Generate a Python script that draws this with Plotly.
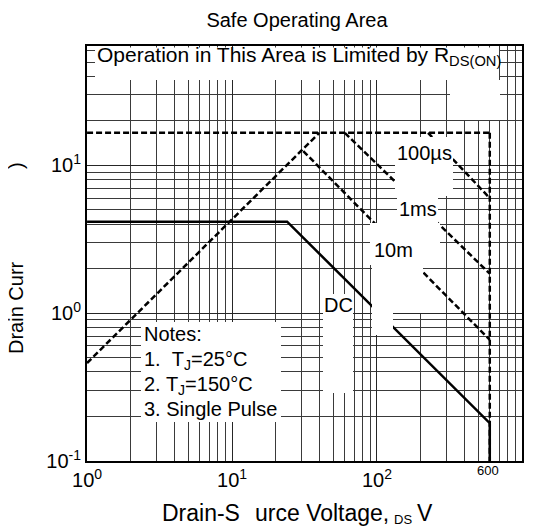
import plotly.graph_objects as go

# ---------------- data ----------------
pulse_v = [1, 600]
pulse_i = [16.6, 16.6]
rds_v = [1, 40]
rds_i = [0.46, 16.6]
us100_v = [225, 600]
us100_i = [16.6, 6.0]
ms1_v = [60, 600]
ms1_i = [16.6, 1.85]
ms10_v = [31, 600]
ms10_i = [12.5, 0.66]
vmax_v = [600, 600]
vmax_i = [16.6, 0.1]
dc_v = [1, 24, 600, 600]
dc_i = [4.16, 4.16, 0.18, 0.1]

x_major = [1, 10, 100, 1000]
x_major_text = ["10<sup>0</sup>", "10<sup>1</sup>", "10<sup>2</sup>", "10<sup>3</sup>"]
x_minor = [2, 3, 4, 5, 6, 7, 8, 9, 20, 30, 40, 50, 60, 70, 80, 90,
           200, 300, 400, 500, 600, 700, 800, 900]
y_major = [0.1, 1, 10]
y_major_text = ["10<sup>-1</sup>", "10<sup>0</sup>", "10<sup>1</sup>"]
y_minor = [0.2, 0.3, 0.4, 0.5, 0.6, 0.7, 0.8, 0.9, 2, 3, 4, 5, 6, 7, 8, 9,
           20, 30, 40, 50, 60]

# ---------------- layout geometry ----------------
# the page body adds an 8px offset; the figure is sized so the plot area
# lands at screen pixels x 87..522, y 46..461 in the 537x527 window
OFF = 8
W, H = 537 - OFF, 527 - OFF
X0, X1, Y0, Y1 = 87, 522, 46, 461          # plot area in screen pixels
L, T = X0 - OFF, Y0 - OFF
R, B = W + OFF - X1, H + OFF - Y1
PW, PH = X1 - X0, Y1 - Y0
FONT = "Liberation Sans, Arial, Helvetica, sans-serif"


def px(x):
    return (x - X0) / PW


def py(y):
    return (Y1 - y) / PH


fig = go.Figure()

dash_style = dict(color="black", width=2.5, dash="6px,3px")
for name, xs, ys in [("Pulse limit", pulse_v, pulse_i),
                     ("RDS(on) limit", rds_v, rds_i),
                     ("100µs", us100_v, us100_i),
                     ("1ms", ms1_v, ms1_i),
                     ("10ms", ms10_v, ms10_i),
                     ("VDS max", vmax_v, vmax_i)]:
    fig.add_trace(go.Scatter(x=xs, y=ys, mode="lines", name=name,
                             line=dash_style, hoverinfo="skip"))
fig.add_trace(go.Scatter(x=dc_v, y=dc_i, mode="lines", name="DC",
                         line=dict(color="black", width=2.5), hoverinfo="skip"))

# white masking patches seen in the reference (screen pixel boxes x0,x1,y0,y1)
masks = [
    (95, 499, 47.5, 80),     # R_DS(ON) note
    (450, 500, 80, 120),
    (395, 453, 137, 196),    # 100us
    (397, 438, 196, 223),    # 1ms
    (370, 440, 223, 265),    # 10ms
    (372, 423, 265, 313),
    (372, 393, 313, 335),
    (323, 353, 294, 393),    # DC
    (141, 281, 322, 422),    # notes
]
shapes = []
for x0, x1, y0, y1 in masks:
    shapes.append(dict(type="rect", xref="paper", yref="paper",
                       x0=px(x0), x1=px(x1), y0=py(y1), y1=py(y0),
                       fillcolor="white", line=dict(width=0), layer="above"))

ann = []


def add_text(text, x, y, size=20, xanchor="center", yanchor="middle", angle=0):
    ann.append(dict(text=text, x=px(x), y=py(y), xref="paper", yref="paper",
                    xanchor=xanchor, yanchor=yanchor, showarrow=False,
                    textangle=angle, font=dict(family=FONT, size=size, color="black")))


add_text("Operation in This Area is Limited by R<sub>DS(ON)</sub>", 95, 56, size=21,
         xanchor="left")
add_text("100µs", 424, 153)
add_text("1ms", 418, 209)
add_text("10m", 372, 250, xanchor="left")
add_text("DC", 338, 305)
add_text("Notes:", 142, 334, xanchor="left")
add_text("1.\u00a0\u00a0T<sub>J</sub>=25°C", 142, 360, xanchor="left")
add_text("2. T<sub>J</sub>=150°C", 142, 385, xanchor="left")
add_text("3. Single Pulse", 142, 409, xanchor="left")
add_text("600", 488, 470, size=13)
# axis titles (partially masked in the reference)
add_text("Drain-S", 160, 513, size=23, xanchor="left")
add_text("urce Voltage,", 253, 513, size=23, xanchor="left")
add_text("DS", 403, 519, size=13)
add_text("V", 425, 513, size=23)
add_text("Drain Curr", 16, 308, angle=-90)
add_text(")", 16, 166, angle=-90)

axis_common = dict(type="log", showline=True, linecolor="black", linewidth=2,
                   mirror=True, ticks="", showgrid=True, gridcolor="#262626",
                   gridwidth=1, zeroline=False,
                   tickfont=dict(family=FONT, size=20, color="black"))

fig.update_layout(
    width=W, height=H,
    margin=dict(l=L, r=R, t=T, b=B, pad=0),
    paper_bgcolor="white", plot_bgcolor="white",
    showlegend=False,
    title=dict(text="Safe Operating Area", x=(297 - OFF) / W, xanchor="center",
               y=1 - (20 - OFF) / H, yanchor="middle",
               font=dict(family=FONT, size=20, color="black")),
    xaxis=dict(axis_common, range=[-0.0005, 3.0005], tickmode="array",
               tickvals=x_major, ticktext=x_major_text,
               minor=dict(tickmode="array", tickvals=x_minor, showgrid=True,
                          gridcolor="#3a3a3a", gridwidth=1, ticks="")),
    yaxis=dict(axis_common, range=[-1.0005, 1.808], tickmode="array",
               tickvals=y_major, ticktext=y_major_text,
               minor=dict(tickmode="array", tickvals=y_minor, showgrid=True,
                          gridcolor="#3a3a3a", gridwidth=1, ticks="")),
    shapes=shapes,
    annotations=ann,
)

fig.write_html("out.html")
